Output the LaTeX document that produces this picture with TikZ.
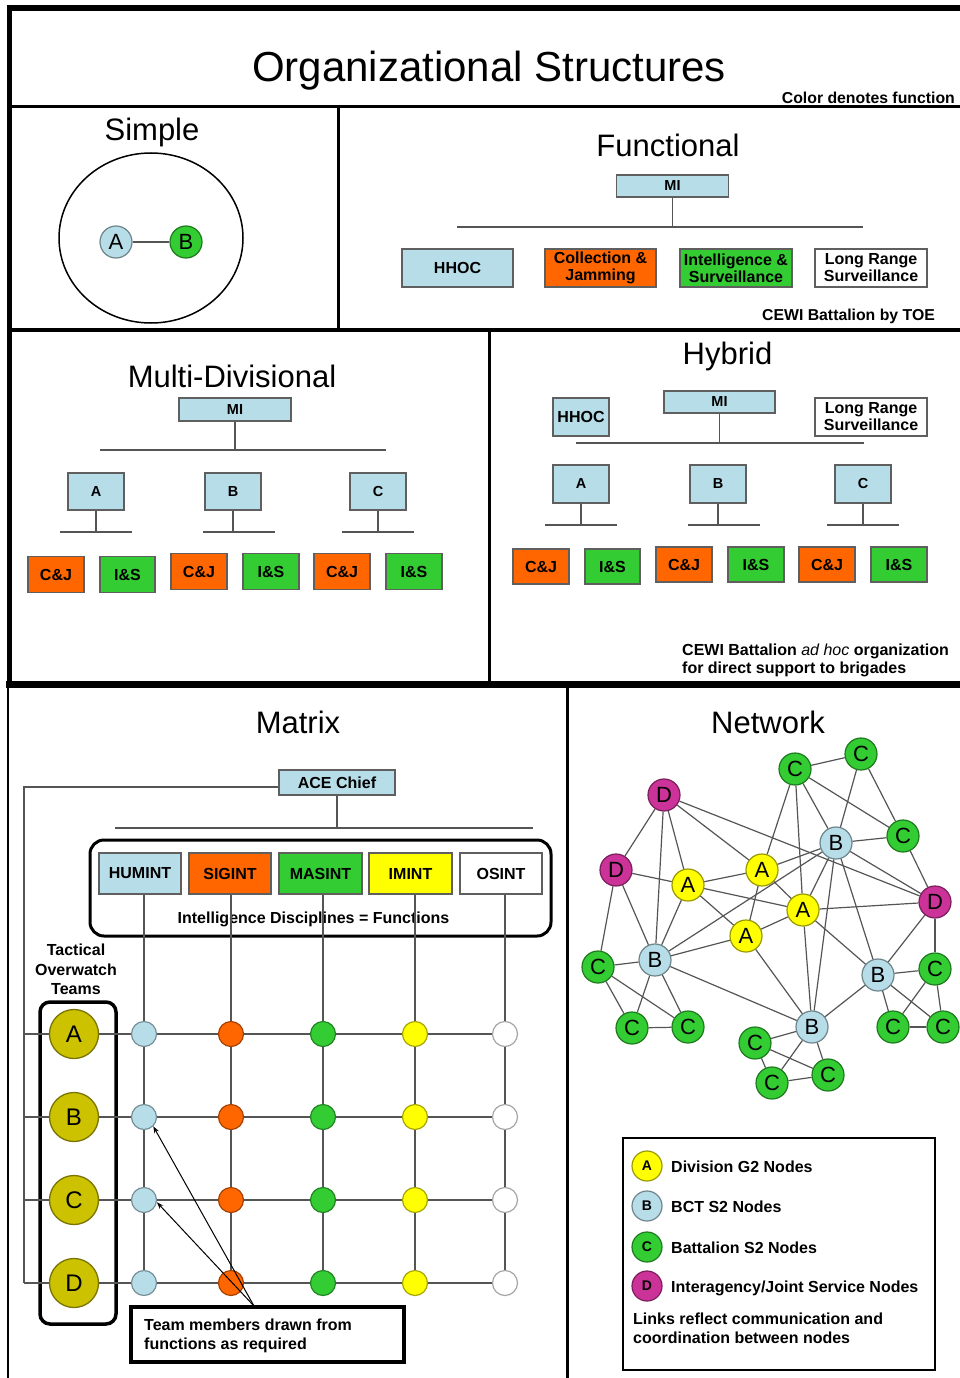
\documentclass[tikz,border=0pt]{standalone}
\usepackage{fontspec}
\setmainfont{Liberation Sans}
\usetikzlibrary{arrows.meta}

\definecolor{lbl}{RGB}{183,221,232}
\definecolor{org}{RGB}{255,102,0}
\definecolor{grn}{RGB}{51,204,51}
\definecolor{yel}{RGB}{255,255,0}
\definecolor{mag}{RGB}{204,51,153}
\definecolor{olv}{RGB}{204,194,0}
\definecolor{boxline}{RGB}{95,95,95}
\definecolor{lineg}{RGB}{85,85,85}

\newcommand{\ftTitle}{\fontsize{42}{46}\selectfont}
\newcommand{\ftHead}{\fontsize{31}{36}\selectfont}
\newcommand{\ftLab}{\bfseries\fontsize{16}{17}\selectfont}
\newcommand{\ftSm}{\bfseries\fontsize{14.5}{15}\selectfont}
\newcommand{\ftLet}{\fontsize{22}{24}\selectfont}

\begin{document}
\begin{tikzpicture}[x=1pt,y=-1pt,
  conn/.style={draw=lineg, line width=1.5pt},
  bx/.style={draw=boxline, line width=1.3pt, inner sep=0pt, align=center, font=\ftLab},
  ttl/.style={font=\ftHead, anchor=base, inner sep=0pt},
  lbltxt/.style={font=\ftLab, anchor=base west, inner sep=0pt},
  nn/.style={circle, draw=#1!60!black, fill=#1, line width=1.2pt, minimum size=32pt, inner sep=0pt, font=\ftLet},
  gdot/.style={circle, draw=#1!65!black, fill=#1, line width=1.2pt, minimum size=25pt, inner sep=0pt},
  team/.style={circle, draw=olv!60!black, fill=olv, line width=1.3pt, minimum size=49pt, inner sep=0pt, font=\fontsize{24}{24}\selectfont},
  lg/.style={circle, draw=#1!60!black, fill=#1, line width=1.2pt, minimum size=30pt, inner sep=0pt, font=\bfseries\fontsize{14}{14}\selectfont},
  arr/.style={draw=black, line width=1pt, -{Stealth[length=7pt,width=5pt]}},
  heavy/.style={draw=black, inner sep=0pt}
]
\useasboundingbox (0,0) rectangle (960,1378);
\fill[white] (0,0) rectangle (960,1378);

% ---------- title ----------
\node[ttl, font=\ftTitle] (title) at (489,82) {Organizational Structures};
\node[font=\bfseries\fontsize{15.8}{17}\selectfont, anchor=base east, inner sep=0pt] (cdf) at (955,104) {Color denotes function};

% ---------- simple ----------
\node[ttl] (stit) at (152,140) {Simple};
\draw[line width=1.5pt] (151,238) ellipse [x radius=92, y radius=85];
\node[nn=lbl] (sa) at (116,242) {A};
\node[nn=grn] (sb) at (186,242) {B};
\draw[conn] (sa) -- (sb);

% ---------- functional ----------
\node[ttl] (ftit) at (668,157) {Functional};
\node[bx, fill=lbl, font=\ftSm, minimum width=112pt, minimum height=22pt] (fmi) at (672.5,186) {MI};
\coordinate (fbl) at (457,227);
\coordinate (fbr) at (863,227);
\draw[conn] (fbl) -- (fbr);
\draw[conn] (fmi.south) -- (fmi.south |- fbl);
\node[bx, fill=lbl, minimum width=111pt, minimum height=38pt] (fhh) at (457.5,268) {HHOC};
\node[bx, fill=org, minimum width=111pt, minimum height=38pt] (fcj) at (600.5,268) {Collection \&\\Jamming};
\node[bx, fill=grn, minimum width=112pt, minimum height=38pt] (fis) at (736,268) {Intelligence \&\\Surveillance};
\node[bx, fill=white, minimum width=112pt, minimum height=38pt] (flr) at (871,268) {Long Range\\Surveillance};
\node[font=\bfseries\fontsize{15.8}{17}\selectfont, anchor=base east, inner sep=0pt] (fcap) at (935,320) {CEWI Battalion by TOE};

% ---------- multi-divisional ----------
\node[ttl] (mdtit) at (232,387) {Multi-Divisional};
\node[bx, fill=lbl, font=\ftSm, minimum width=112pt, minimum height=23pt] (mdmi) at (235,409.5) {MI};
\coordinate (mdbl) at (100,450);
\coordinate (mdbr) at (386,450);
\draw[conn] (mdbl) -- (mdbr);
\draw[conn] (mdmi.south) -- (mdmi.south |- mdbl);
\foreach \n/\x/\l/\r/\t in {a/96/60/132/A, b/233/203/275/B, c/378/342/414/C}{
  \node[bx, fill=lbl, font=\bfseries\fontsize{14.5}{14}\selectfont, minimum width=56pt, minimum height=37pt] (md\n) at (\x,491.5) {\t};
  \coordinate (md\n l) at (\l,532);
  \coordinate (md\n r) at (\r,532);
  \draw[conn] (md\n l) -- (md\n r);
  \draw[conn] (md\n.south) -- (md\n.south |- md\n l);
}
\node[bx, fill=org, minimum width=56pt, minimum height=36pt] (mdcja) at (56,574.5) {C\&J};
\node[bx, fill=grn, minimum width=55pt, minimum height=36pt] (mdisa) at (127.5,574.5) {I\&S};
\node[bx, fill=org, minimum width=56pt, minimum height=36pt] (mdcjb) at (199,571.5) {C\&J};
\node[bx, fill=grn, minimum width=56pt, minimum height=36pt] (mdisb) at (271,571.5) {I\&S};
\node[bx, fill=org, minimum width=56pt, minimum height=36pt] (mdcjc) at (342,571.5) {C\&J};
\node[bx, fill=grn, minimum width=56pt, minimum height=36pt] (mdisc) at (414,571.5) {I\&S};

% ---------- hybrid ----------
\node[ttl] (hytit) at (727.5,364) {Hybrid};
\node[bx, fill=lbl, minimum width=56pt, minimum height=38pt] (hyhh) at (581,417) {HHOC};
\node[bx, fill=lbl, font=\ftSm, minimum width=111pt, minimum height=22pt] (hymi) at (719.5,402) {MI};
\node[bx, fill=white, minimum width=112pt, minimum height=38pt] (hylr) at (871,417) {Long Range\\Surveillance};
\coordinate (hybl) at (576,443);
\coordinate (hybr) at (864,443);
\draw[conn] (hybl) -- (hybr);
\draw[conn] (hymi.south) -- (hymi.south |- hybl);
\foreach \n/\x/\l/\r/\t in {a/581/545/617/A, b/718/688/760/B, c/863/827/899/C}{
  \node[bx, fill=lbl, font=\bfseries\fontsize{14.5}{14}\selectfont, minimum width=56pt, minimum height=38pt] (hy\n) at (\x,484) {\t};
  \coordinate (hy\n l) at (\l,525);
  \coordinate (hy\n r) at (\r,525);
  \draw[conn] (hy\n l) -- (hy\n r);
  \draw[conn] (hy\n.south) -- (hy\n.south |- hy\n l);
}
\node[bx, fill=org, minimum width=56pt, minimum height=35pt] (hycja) at (541,566.5) {C\&J};
\node[bx, fill=grn, minimum width=55pt, minimum height=35pt] (hyisa) at (612.5,566.5) {I\&S};
\node[bx, fill=org, minimum width=56pt, minimum height=35pt] (hycjb) at (684,564.5) {C\&J};
\node[bx, fill=grn, minimum width=56pt, minimum height=35pt] (hyisb) at (756,564.5) {I\&S};
\node[bx, fill=org, minimum width=56pt, minimum height=35pt] (hycjc) at (827,564.5) {C\&J};
\node[bx, fill=grn, minimum width=56pt, minimum height=35pt] (hyisc) at (899,564.5) {I\&S};
\node[lbltxt] (hyc1) at (682,655) {CEWI Battalion {\mdseries\itshape ad hoc} organization};
\node[lbltxt] (hyc2) at (682,673) {for direct support to brigades};

% ---------- matrix ----------
\node[ttl] (mxtit) at (298,733) {Matrix};
\node[bx, fill=lbl, minimum width=116pt, minimum height=25pt] (ace) at (337,782.5) {ACE Chief};
\coordinate (mxbl) at (115,828);
\coordinate (mxbr) at (533,828);
\draw[conn] (mxbl) -- (mxbr);
\draw[conn] (ace.south) -- (ace.south |- mxbl);
\node[heavy, line width=3pt, rounded corners=14pt, minimum width=461pt, minimum height=96pt] (dbox) at (320.5,888) {};
\node[bx, fill=lbl, minimum width=82pt, minimum height=41pt] (dhum) at (140,873.5) {HUMINT};
\node[bx, fill=org, minimum width=82pt, minimum height=41pt] (dsig) at (230,873.5) {SIGINT};
\node[bx, fill=grn, minimum width=83pt, minimum height=41pt] (dmas) at (320.5,873.5) {MASINT};
\node[bx, fill=yel, minimum width=83pt, minimum height=41pt] (dimi) at (410.5,873.5) {IMINT};
\node[bx, fill=white, minimum width=82pt, minimum height=41pt] (dosi) at (501,873.5) {OSINT};
\node[font=\ftLab, anchor=base, inner sep=0pt] (dlab) at (313.5,923) {Intelligence Disciplines = Functions};

\node[font=\ftLab, anchor=base, inner sep=0pt] (tow1) at (76,955) {Tactical};
\node[font=\ftLab, anchor=base, inner sep=0pt] (tow2) at (76,975) {Overwatch};
\node[font=\ftLab, anchor=base, inner sep=0pt] (tow3) at (76,994) {Teams};
\node[heavy, line width=3.5pt, rounded corners=10pt, minimum width=76pt, minimum height=322pt] (tbox) at (78,1163) {};

% grid of team members
\foreach \r/\y/\t in {1/1034/A, 2/1117/B, 3/1200/C, 4/1283/D}{
  \coordinate (rl\r) at (24,\y);
  \node[team] (tm\r) at (74,\y) {\t};
  \node[gdot=lbl]   (g\r1) at (144,\y) {};
  \node[gdot=org]   (g\r2) at (231,\y) {};
  \node[gdot=grn]   (g\r3) at (323,\y) {};
  \node[gdot=yel]   (g\r4) at (415,\y) {};
  \node[gdot=white] (g\r5) at (505,\y) {};
  \draw[conn] (rl\r) -- (tm\r) -- (g\r1) -- (g\r2) -- (g\r3) -- (g\r4) -- (g\r5);
}
\foreach \c/\d in {1/dhum, 2/dsig, 3/dmas, 4/dimi, 5/dosi}{
  \draw[conn] (g1\c |- \d.south) -- (g1\c) -- (g2\c) -- (g3\c) -- (g4\c);
}
\coordinate (acel) at ([yshift=-4.5pt]ace.west);
\draw[conn] (acel) -- (acel -| rl1) -- (rl4);

\node[heavy, line width=3.5pt, minimum width=273pt, minimum height=55pt] (call) at (267.5,1334.5) {};
\node[lbltxt] (ct1) at (144,1330) {Team members drawn from};
\node[lbltxt] (ct2) at (144,1349) {functions as required};
\coordinate (cpt) at (254,1306);
\draw[arr] (cpt) -- (g21.south east);
\draw[arr] (cpt) -- (g31.-10);

% ---------- network ----------
\node[ttl] (nwtit) at (768,733) {Network};
\node[nn=mag] (D1) at (664,795) {D};
\node[nn=grn] (C1) at (795,769) {C};
\node[nn=grn] (C2) at (861,754) {C};
\node[nn=mag] (D2) at (616,870) {D};
\node[nn=lbl] (B1) at (836,843) {B};
\node[nn=grn] (C3) at (903,836) {C};
\node[nn=yel] (A1) at (762,870) {A};
\node[nn=yel] (A2) at (688,885) {A};
\node[nn=mag] (D3) at (935,902) {D};
\node[nn=yel] (A3) at (803,910) {A};
\node[nn=yel] (A4) at (746,936) {A};
\node[nn=lbl] (B2) at (655,960) {B};
\node[nn=grn] (C4) at (598,967) {C};
\node[nn=lbl] (B3) at (878,975) {B};
\node[nn=grn] (C5) at (935,969) {C};
\node[nn=lbl] (B4) at (812,1027) {B};
\node[nn=grn] (C6) at (632,1028) {C};
\node[nn=grn] (C7) at (688,1027) {C};
\node[nn=grn] (C8) at (893,1027) {C};
\node[nn=grn] (C9) at (943,1027) {C};
\node[nn=grn] (C10) at (755,1043) {C};
\node[nn=grn] (C11) at (828,1075) {C};
\node[nn=grn] (C12) at (772,1083) {C};
\foreach \u/\v in {C1/C2, C2/C3, C2/B1, C1/C3, C1/A1, C1/A3, C1/B1, C3/D3, B1/C3, A1/B1,
  D1/D2, D1/B2, D1/A2, D1/A1, D1/D3, D2/A2, D2/C4, D2/B2,
  A2/A1, A2/B2, A2/A4, A2/A3, A1/A4, A1/A3,
  B1/B2, B1/A3, B1/B4, B1/B3, B1/D3,
  A3/D3, A3/B3, A3/B4, A3/A4, A4/B2, A4/B4,
  B2/C4, B2/C6, B2/C7, B2/B4, C4/C6, C4/C7, C6/C7,
  D3/C5, D3/B3, B3/C5, B3/B4, B3/C8, B3/C9, C5/C8, C5/C9, C8/C9,
  B4/C10, B4/C11, B4/C12, C10/C11, C10/C12, C12/C11}{
  \draw[draw=lineg, line width=1.2pt] (\u) -- (\v);
}

% legend
\node[heavy, line width=1.8pt, minimum width=312pt, minimum height=232pt] (leg) at (779,1254) {};
\node[lg=yel] (la) at (647,1166) {A};
\node[lg=lbl] (lb) at (647,1206) {B};
\node[lg=grn] (lc) at (647,1247) {C};
\node[lg=mag] (ld) at (647,1286) {D};
\node[lbltxt] (lta) at (671,1172) {Division G2 Nodes};
\node[lbltxt] (ltb) at (671,1212) {BCT S2 Nodes};
\node[lbltxt] (ltc) at (671,1253) {Battalion S2 Nodes};
\node[lbltxt] (ltd) at (671,1292) {Interagency/Joint Service Nodes};
\node[lbltxt] (ll1) at (633,1324) {Links reflect communication and};
\node[lbltxt] (ll2) at (633,1343) {coordination between nodes};

% ---------- panel frames ----------
\draw[line width=6pt] (7,8) -- (960,8);
\draw[line width=5pt] (9.5,5) -- (9.5,686);
\draw[line width=3pt] (9.5,107) -- (960,107);
\draw[line width=3pt] (338,107) -- (338,330);
\draw[line width=4pt] (9.5,330) -- (960,330);
\draw[line width=3pt] (489,330) -- (489,684);
\draw[line width=7pt] (6,684) -- (960,684);
\draw[line width=2.5pt] (8,684) -- (8,1378);
\draw[line width=3pt] (567,684) -- (567,1378);
\end{tikzpicture}
\end{document}
